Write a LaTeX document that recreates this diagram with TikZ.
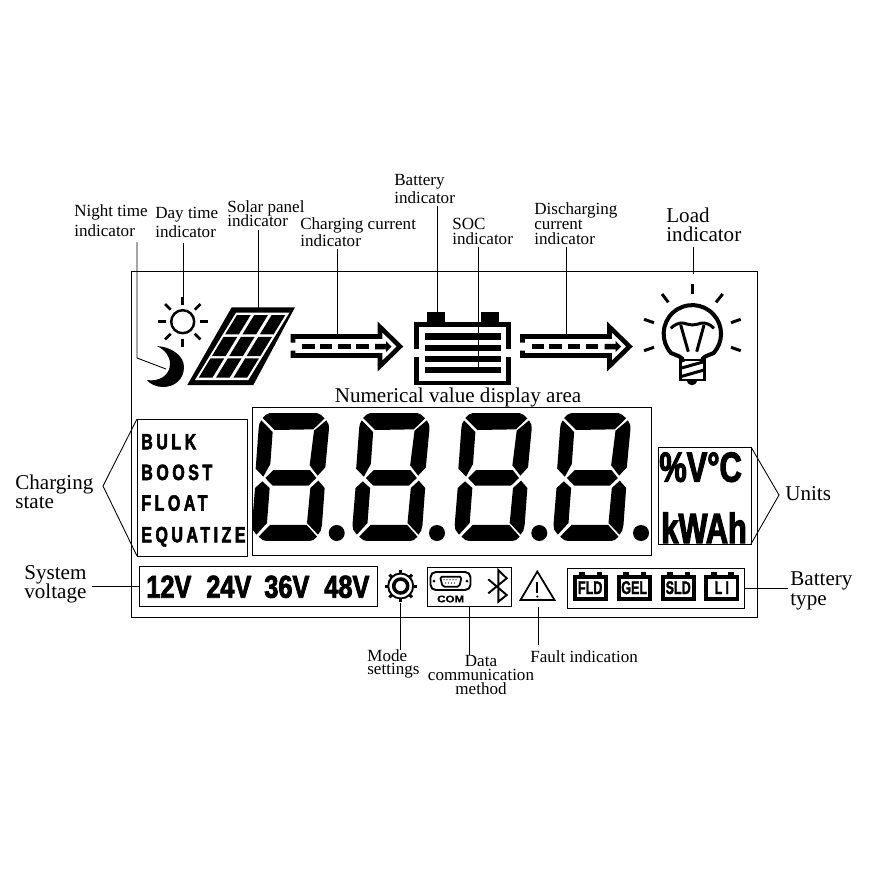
\documentclass[tikz,border=0pt]{standalone}
\usepackage{fontspec}
\setmainfont{Liberation Serif}
\newfontfamily\voltfont[FakeStretch=0.8,FakeBold=2.5]{Liberation Sans}
\newfontfamily\unitfont[FakeStretch=0.73,FakeBold=2.5]{Liberation Sans}
\newfontfamily\statefont[FakeStretch=0.72,LetterSpace=16,FakeBold=2.5]{Liberation Sans}
\newfontfamily\typefont[FakeStretch=0.68,FakeBold=1.5]{Liberation Sans}
\newfontfamily\comfont[FakeStretch=1.2,FakeBold=1]{Liberation Sans}
\usetikzlibrary{fit,calc}
\setlength{\normallineskiplimit}{-20pt}
\setlength{\lineskiplimit}{-20pt}
\tikzset{
    lbl/.style={align=left, anchor=west, inner sep=0pt, font=\fontsize{9.7}{#1}\selectfont},
    lbl/.default=11.3,
    biglbl/.style={align=left, anchor=west, inner sep=0pt, font=\fontsize{12}{#1}\selectfont},
    biglbl/.default=11,
    boxed/.style={draw, line width=0.5pt, inner sep=0pt, outer sep=0pt},
    lead/.style={line width=0.5pt},
    ray/.style={line width=1.5pt},
    lcddigit/.pic={
        \fill (38,30) -- (48,20) -- (60,15) -- (200,15) -- (212,20) -- (224,31) -- (190,64) -- (74,66) -- cycle;
        \fill (34,37) -- (68,72) -- (61,168) -- (40,206) -- (17,182) -- (26,60) -- (28,48) -- cycle;
        \fill (229,37) -- (236,50) -- (237,62) -- (226,178) -- (203,203) -- (179,172) -- (192,68) -- cycle;
        \fill (46,210) -- (70,186) -- (180,186) -- (199,210) -- (175,233) -- (68,233) -- cycle;
        \fill (37,220) -- (59,240) -- (51,345) -- (19,380) -- (8,365) -- (6,350) -- (15,240) -- cycle;
        \fill (205,218) -- (224,240) -- (216,350) -- (212,368) -- (204,380) -- (171,345) -- (181,240) -- cycle;
        \fill (26,386) -- (60,351) -- (170,351) -- (201,386) -- (190,396) -- (178,399) -- (50,399) -- (38,396) -- cycle;
    },
    flowarrow/.pic={
        \draw[line width=2.6pt, miter limit=10] (293,342.5) -- (293,336.5) -- (380,336.5) -- (380,327) -- (400,346.5) -- (380,366) -- (380,355.5) -- (293,355.5) -- (293,350.5);
        \foreach \dx in {302,319.5,338,356}
            \fill (\dx,343.8) rectangle +(12.7,5.5);
        \fill (375,343.8) -- (386,343.8) -- (386,341) -- (391.5,346.5) -- (386,352) -- (386,349.3) -- (375,349.3) -- cycle;
    }
}
\begin{document}
\begin{tikzpicture}[x=0.02cm, y=-0.02cm]
    \useasboundingbox (0,0) rectangle (869,869);
    % Frames
    \node[boxed, fit={(131.5,271) (757.5,617)}] (lcdframe) {};
    \node[boxed, fit={(137,419) (247,556)}] (statebox) {};
    \node[boxed, fit={(252,407) (651,555)}] (valuebox) {};
    \node[boxed, fit={(658,447) (751,544)}] (unitbox) {};
    \node[boxed, fit={(139,566) (377,606)}] (voltbox) {};
    \node[boxed, fit={(427,567) (511,606)}] (combox) {};
    \node[boxed, fit={(567,568) (744,608)}] (typebox) {};
    % Top labels
    \node[lbl] (nightlbl) at (74,221) {Night time\\indicator};
    \node[lbl] (daylbl) at (155,222.5) {Day time\\indicator};
    \node[lbl=8] (solarlbl) at (227,214) {Solar panel\\indicator};
    \node[lbl=9.6] (chargelbl) at (300,232.5) {Charging current\\indicator};
    \node[lbl=10.2] (batterylbl) at (394,189) {Battery\\indicator};
    \node[lbl=8.5] (soclbl) at (452,231.5) {SOC\\indicator};
    \node[lbl=8.5] (dischargelbl) at (534,224) {Discharging\\current\\indicator};
    \node[biglbl] (loadlbl) at (666,225) {Load\\indicator};
    \node[biglbl, anchor=center] (valuelbl) at (458,397) {Numerical value display area};
    % Side labels
    \node[biglbl] (statelbl) at (15,491.5) {Charging\\state};
    \node[biglbl] (unitlbl) at (785,494) {Units};
    \node[biglbl] (voltlbl) at (24,584) {System\\voltage};
    \node[biglbl] (typelbl) at (790,591) {Battery\\type};
    % Bottom labels
    \node[lbl=7.4] (modelbl) at (367,663.5) {Mode\\settings};
    \node[lbl=8, align=center, anchor=center] (datalbl) at (481,675) {Data\\communication\\method};
    \node[lbl] (faultlbl) at (530,657) {Fault indication};
    % Sun
    \coordinate (sun) at (182.7,321.7);
    \draw[line width=1.4pt] (sun) circle (11.5);
    \foreach \a in {0,45,...,315}
        \draw[ray] ($(sun)+(\a:17)$) -- ($(sun)+(\a:25)$);
    % Moon
    \fill (157,346) .. controls (172,347) and (184,356) .. (184,367) .. controls (184,379) and (175,387) .. (163,387) .. controls (156,387) and (150,384) .. (147,380) .. controls (158,382) and (170,376) .. (170,364) .. controls (170,356) and (165,350) .. (157,346) -- cycle;
    % Solar panel
    \fill (231.7,307.3) -- (295,307.3) -- (253.3,385) -- (187.3,385) -- cycle;
    \begin{scope}[shift={(195,380)}, xslant=0.61]
        \fill[white] (0,0) rectangle (53.3,-67.3);
        \foreach \u in {2.3,19.6,37}
            \foreach \v in {-2.4,-24,-45.6}
                \fill (\u,\v) rectangle +(13.7,-19.2);
    \end{scope}
    % Flow arrows
    \pic at (0,0) {flowarrow};
    \pic at (229.5,0) {flowarrow};
    % Battery
    \foreach \bx in {426.7,480.7}
        \fill (\bx,311.7) rectangle +(18,10);
    \fill (414,321.7) rectangle (510.7,326.7);
    \foreach \bx in {414,506}
    {
        \fill (\bx,321.7) rectangle +(4.7,27.3);
        \fill (\bx,357) rectangle +(4.7,28);
    }
    \fill (414,380.7) rectangle (510.7,385);
    \foreach \by in {333.3,344.6,355.9,367}
        \fill (425,\by) rectangle +(75.7,6.3);
    % Bulb
    \draw[line width=2.3pt] (683,362) .. controls (683,356) and (677,356) .. (671,353) arc[start angle=138, end angle=402, radius=28.7] .. controls (707.5,356) and (702,356) .. (702,362);
    \draw[line width=1.7pt] (670.7,328.3) .. controls (675,324) and (680,322.7) .. (683,323) .. controls (686,323.5) and (689,325) .. (692.3,325) .. controls (696,325) and (699,323.5) .. (702,323) .. controls (705,322.7) and (710,324) .. (714,328.3);
    \draw[line width=1.7pt] (680.7,325) -- (688.3,351.7) (704,325) -- (696.7,351.7);
    \draw[line width=1.7pt, line join=miter] (680.5,360) rectangle (704,380);
    \draw[line width=1.7pt] (680.5,368.3) -- (704,361.7) (680.5,376.7) -- (704,370);
    \fill (686.7,380) .. controls (688,387) and (696,387) .. (697.3,380) -- cycle;
    \foreach \ra/\rb in {{692.3,284}/{692.3,294},{662,294}/{668.3,302.3},{722.7,294}/{716,302.3},{644,319.3}/{654,322.7},{740.7,319.3}/{731,322.7},{644,350.7}/{654,347.3},{740.7,350.7}/{731,347.3}}
        \draw[line width=1.7pt] (\ra) -- (\rb);
    % Digits
    \foreach \dx in {250,350.5,452.7,551.5}
        \pic[scale=0.3333] at (\dx,408) {lcddigit};
    \foreach \dx in {336.7,437,539.3,641}
        \fill (\dx,533) circle (8);
    % State words
    \node[font=\fontsize{12.6}{13}\statefont\bfseries, anchor=base west, inner sep=0pt] (bulk) at (141,449.3) {BULK};
    \node[font=\fontsize{12.6}{13}\statefont\bfseries, anchor=base west, inner sep=0pt] (boost) at (141,480) {BOOST};
    \node[font=\fontsize{12.6}{13}\statefont\bfseries, anchor=base west, inner sep=0pt] (float) at (141,510.7) {FLOAT};
    \node[font=\fontsize{12.6}{13}\statefont\bfseries, anchor=base west, inner sep=0pt] (equalize) at (141,542.3) {EQUATIZE};
    % Units
    \node[font=\fontsize{24}{24}\unitfont\bfseries, anchor=base west, inner sep=0pt] (unita) at (659,481.7) {\%V°C};
    \node[font=\fontsize{24}{24}\unitfont\bfseries, anchor=base west, inner sep=0pt] (unitb) at (661,543) {kWAh};
    % System voltage
    \foreach \vx/\vt in {146/12V,206/24V,264/36V,324/48V}
        \node[font=\fontsize{18}{18}\voltfont\bfseries, anchor=base west, inner sep=0pt] (v\vt) at (\vx,597.7) {\vt};
    % Mode gear
    \coordinate (gear) at (400.7,586);
    \draw[line width=1.1pt] (gear) circle (12.5);
    \draw[line width=2pt] (gear) circle (7);
    \foreach \a in {0,45,...,315}
        \draw[line width=1.7pt] ($(gear)+(\a:12)$) -- ($(gear)+(\a:16)$);
    % COM port
    \draw[line width=1.1pt, rounded corners=3pt] (430.5,572) rectangle (470.5,590);
    \draw[line width=1pt, rounded corners=1pt] (440,576.7) -- (461.7,576.7) -- (459.3,586.7) -- (442.7,586.7) -- cycle;
    \fill (434,581) circle (1.5) (467,581) circle (1.5);
    \foreach \px in {444,447,450,453,456}
        \fill (\px,579.7) circle (0.7);
    \foreach \px in {445.5,448.5,451.5,454.5}
        \fill (\px,583) circle (0.7);
    \node[font=\fontsize{5.5}{6}\comfont\bfseries, inner sep=0pt] (comtext) at (450.7,599) {COM};
    % Bluetooth
    \draw[line width=1.1pt] (488.3,579.3) -- (506.7,595) -- (498.3,601.7) -- (498.3,570) -- (506.7,578.3) -- (488.3,593.3);
    % Fault triangle
    \draw[line width=1pt, line join=miter] (537.3,571.5) -- (554.5,600) -- (520.5,600) -- cycle;
    \draw[line width=1pt] (537.3,581.7) -- (537.3,593);
    \fill (537.3,596.5) circle (1.2);
    % Battery types
    \foreach \tx/\tname/\tid in {572.7/FLD/fld,616.7/GEL/gel,660.7/SLD/sld,704.3/L\,I/li}
    {
        \fill (\tx+6.7,571.7) rectangle +(5.5,4);
        \fill (\tx+24,571.7) rectangle +(5.5,4);
        \fill (\tx,575) rectangle +(35,25.7);
        \fill[white] (\tx+3.8,579.3) rectangle +(27.4,17.2);
        \node[font=\fontsize{10.5}{10}\typefont\bfseries, anchor=base, inner sep=0pt] (\tid) at (\tx+17.5,594) {\tname};
    }
    % Connectors from labels
    \coordinate (nighttop) at (137,242);
    \coordinate (nightknee) at (137,358);
    \coordinate (nightend) at (166,369);
    \coordinate (daytop) at (183.5,243);
    \coordinate (dayend) at (183.5,297);
    \coordinate (solartop) at (258,230);
    \coordinate (solarend) at (258,308);
    \coordinate (chargetop) at (337,249);
    \coordinate (chargeend) at (337,335);
    \coordinate (batterytop) at (437,206);
    \coordinate (batteryend) at (437,312);
    \coordinate (soctop) at (478,247);
    \coordinate (socend) at (478,367);
    \coordinate (dischargetop) at (566,247);
    \coordinate (dischargeend) at (566,335);
    \coordinate (loadtop) at (693,247);
    \coordinate (loadend) at (693,274);
    \coordinate (modeend) at (400.5,650);
    \coordinate (gearend) at (400.5,603);
    \coordinate (dataend) at (469,655);
    \coordinate (faultend) at (538,645);
    \coordinate (faulttop) at (538,607);
    \coordinate (statepeak) at (103,486);
    \coordinate (unitpeak) at (779,495);
    \coordinate (voltend) at (92,586);
    \coordinate (typeend) at (788,588);
    \draw[lead] (nighttop) -- (nightknee) -- (nightend);
    \draw[lead] (daytop) -- (dayend);
    \draw[lead] (solartop) -- (solarend);
    \draw[lead] (chargetop) -- (chargeend);
    \draw[lead] (batterytop) -- (batteryend);
    \draw[lead] (soctop) -- (socend);
    \draw[lead] (dischargetop) -- (dischargeend);
    \draw[lead] (loadtop) -- (loadend);
    \draw[lead] (statebox.north west) -- (statepeak) -- (statebox.south west);
    \draw[lead] (unitbox.north east) -- (unitpeak) -- (unitbox.south east);
    \draw[lead] (voltend) -- (voltbox.west);
    \draw[lead] (typebox.east) -- (typeend);
    \draw[lead] (gearend) -- (modeend);
    \draw[lead] (combox.south) -- (dataend);
    \draw[lead] (faulttop) -- (faultend);
\end{tikzpicture}
\end{document}
